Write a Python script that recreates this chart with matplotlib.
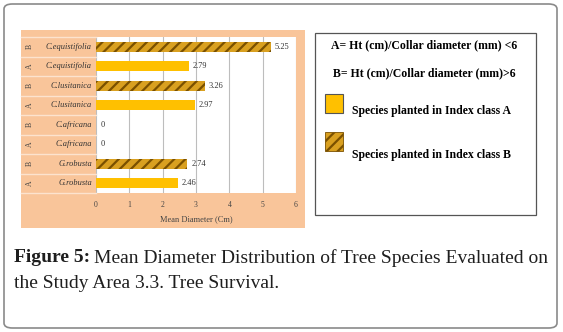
import matplotlib.pyplot as plt
from matplotlib.patches import FancyBboxPatch, Rectangle
from matplotlib.transforms import blended_transform_factory

species = ["C.equistifolia", "C.equistifolia", "C.lusitanica", "C.lusitanica",
           "C.africana", "C.africana", "G.robusta", "G.robusta"]
classes = ["B", "A", "B", "A", "B", "A", "B", "A"]
values = [5.25, 2.79, 3.26, 2.97, 0, 0, 2.74, 2.46]
xticks = [0, 1, 2, 3, 4, 5, 6]

plt.rcParams['hatch.linewidth'] = 1.6

W, H = 563, 332
fig = plt.figure(figsize=(W / 100, H / 100), dpi=100)
fig.patch.set_facecolor("white")

def fx(px): return px / W
def fy(py): return 1 - py / H

# outer rounded border
fig.patches.append(FancyBboxPatch((fx(4), fy(328)), fx(553), (324) / H,
                                  boxstyle="round,pad=0,rounding_size=0.015",
                                  transform=fig.transFigure, fill=False,
                                  edgecolor="#8a8a8a", linewidth=1.2, zorder=-2))

# chart area
peach = "#F9C59A"
fig.patches.append(Rectangle((fx(21), fy(228)), fx(284), 198 / H,
                             transform=fig.transFigure, facecolor=peach,
                             edgecolor="none", zorder=-1))

ax = fig.add_axes([fx(96), fy(193), fx(200), (193 - 37) / H])
ax.set_zorder(1)
ax.set_facecolor("white")
n = len(values)
ypos = list(range(n))[::-1]
colA = "#FFC000"
colB = "#D9A020"
hatchB = "#7A5000"
for y, v, c in zip(ypos, values, classes):
    if c == "A":
        ax.barh(y, v, height=0.5, color=colA, edgecolor="none", zorder=3)
    else:
        ax.barh(y, v, height=0.5, color=colB, edgecolor=hatchB,
                hatch="///", linewidth=0, zorder=3)
    ax.text(v + 0.12 if v > 0 else 0.15, y, f"{v:g}", va="center", ha="left",
            fontsize=6, family="Liberation Serif", color="#333333", zorder=4)

ax.set_xlim(0, 6)
ax.set_ylim(-0.5, n - 0.5)
ax.set_xticks(xticks)
ax.set_xticklabels([str(t) for t in xticks], fontsize=5.5, family="Liberation Serif", color="#444444")
ax.tick_params(axis="x", length=0, pad=6)
ax.set_yticks([])
ax.grid(axis="x", color="#bdbdbd", linewidth=0.8, zorder=0)
for s in ax.spines.values():
    s.set_visible(False)
ax.set_xlabel("Mean Diameter (Cm)", fontsize=6, family="Liberation Serif",
              color="#444444", labelpad=4)

trans = blended_transform_factory(fig.transFigure, ax.transData)
for y, sp, c in zip(ypos, species, classes):
    ax.text(fx(92), y, sp, transform=trans, ha="right", va="center",
            fontsize=6, family="Liberation Serif", style="italic", color="#333333")
    ax.text(fx(30), y, c, transform=trans, ha="center", va="center",
            fontsize=5.5, family="Liberation Serif", rotation=90, color="#444444")
for b in range(n + 1):
    yy = b - 0.5
    ax.plot([fx(21), fx(96)], [yy, yy], transform=trans, color="#FCE3CE",
            linewidth=1.0, clip_on=False)

# legend box
fig.patches.append(Rectangle((fx(315), fy(215)), fx(221), (215 - 33) / H,
                             transform=fig.transFigure, fill=False,
                             edgecolor="#555555", linewidth=0.9))
lf = dict(family="Liberation Serif", weight="bold", fontsize=8.5, color="black")
fig.text(fx(424), fy(45), "A= Ht (cm)/Collar diameter (mm) <6", ha="center", va="center", **lf)
fig.text(fx(424), fy(73), "B= Ht (cm)/Collar diameter (mm)>6", ha="center", va="center", **lf)
fig.patches.append(Rectangle((fx(325), fy(113)), fx(18), 19 / H,
                             transform=fig.transFigure, facecolor=colA,
                             edgecolor="#555555", linewidth=0.8))
fig.patches.append(Rectangle((fx(325), fy(151)), fx(18), 19 / H,
                             transform=fig.transFigure, facecolor=colB,
                             edgecolor=hatchB, hatch="///", linewidth=0.6))
fig.text(fx(352), fy(111), "Species planted in Index class A", ha="left", va="center", **lf)
fig.text(fx(352), fy(155), "Species planted in Index class B", ha="left", va="center", **lf)

# caption
cf = dict(family="Liberation Serif", fontsize=14, color="#1e1e1e")
t1 = fig.text(fx(14), fy(258), "Figure 5:", ha="left", va="center", weight="bold", **cf)
fig.canvas.draw()
bb = t1.get_window_extent()
fig.text(bb.x1 / W + fx(4), fy(258),
         "Mean Diameter Distribution of Tree Species Evaluated on",
         ha="left", va="center", **cf)
fig.text(fx(14), fy(283), "the Study Area 3.3. Tree Survival.", ha="left", va="center", **cf)

fig.savefig("out.png", dpi=100, facecolor="white")
